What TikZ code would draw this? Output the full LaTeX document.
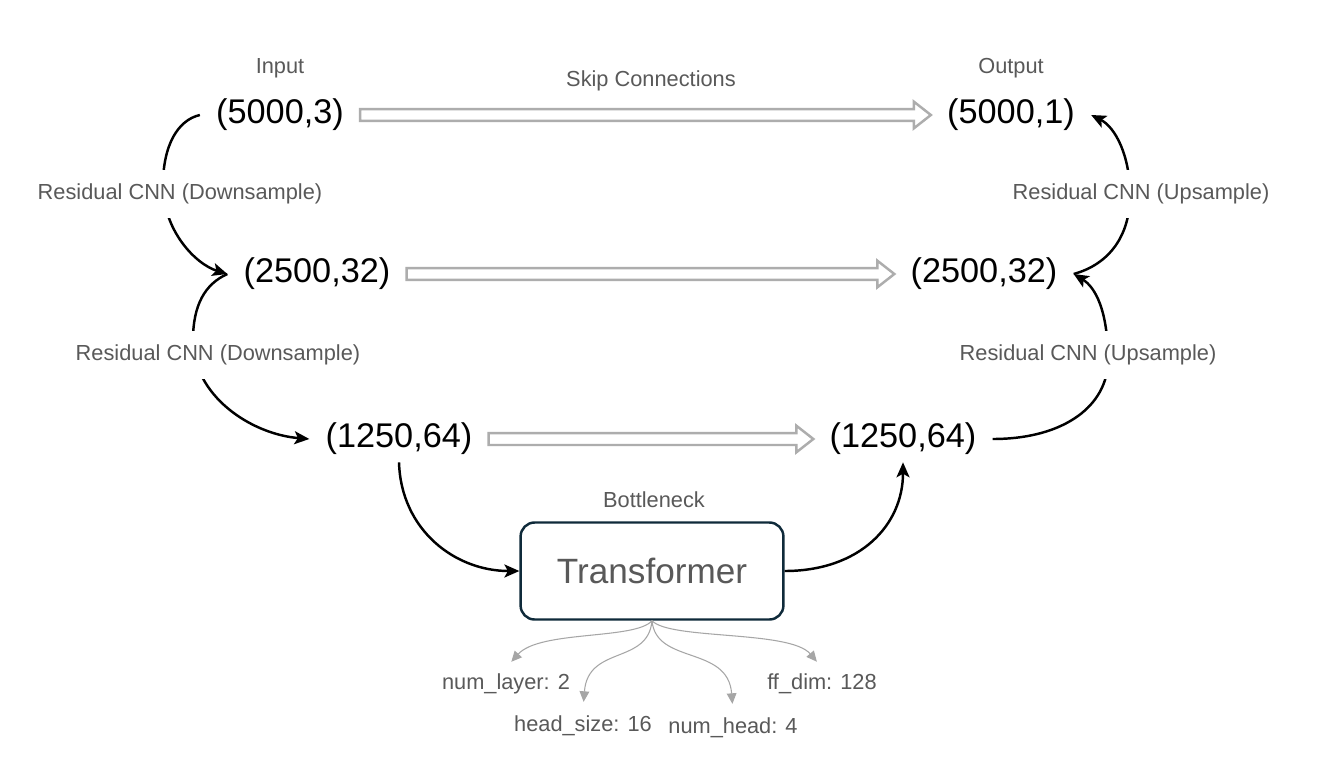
\documentclass[tikz,border=0pt]{standalone}
\usepackage{fontspec}
\setmainfont{Liberation Sans}
\usetikzlibrary{arrows.meta, calc}

\definecolor{labelgray}{HTML}{595959}
\definecolor{skipgray}{HTML}{ADADAD}
\definecolor{paramgray}{HTML}{A6A6A6}
\definecolor{boxnavy}{HTML}{0F2A3A}

\begin{document}
\begin{tikzpicture}[
    x=0.02cm, y=-0.02cm,
    dimnode/.style={font=\fontsize{19.5}{23}\selectfont, inner xsep=9.1pt, inner ysep=4pt},
    caption/.style={font=\fontsize{12.4}{15}\selectfont, text=labelgray},
    masklabel/.style={caption, fill=white, inner ysep=8pt, inner xsep=2pt},
    block/.style={draw=boxnavy, line width=1.4pt, rounded corners=8pt,
        minimum width=149.6pt, minimum height=55.2pt,
        font=\fontsize{20}{24}\selectfont, text=labelgray},
    flow/.style={-{Stealth[length=8.5pt, width=7.4pt, inset=2pt]}, line width=1.4pt},
    param/.style={-{Triangle[length=6pt, width=5.5pt]}, draw=paramgray, line width=0.6pt, shorten >=4.5pt},
    skiparrow/.style={draw=skipgray, line width=1.4pt, line join=miter,
        to path={let \p1=(\tikztostart), \p2=(\tikztotarget) in
            (\x1,\y1+3.4pt) -- (\x2-9.7pt,\y1+3.4pt) -- (\x2-9.7pt,\y1+7.6pt)
            -- (\x2,\y1) -- (\x2-9.7pt,\y1-7.6pt) -- (\x2-9.7pt,\y1-3.4pt)
            -- (\x1,\y1-3.4pt) -- cycle}}
]

\fill[white] (0,0) rectangle (1317,767);
\useasboundingbox (0,0) rectangle (1317,767);

% === SHAPES (encoder on the left, decoder on the right) ===
\node[dimnode] (in0)  at (280,115) {(5000,3)};
\node[dimnode] (d2)   at (317,274) {(2500,32)};
\node[dimnode] (d3)   at (399,439) {(1250,64)};
\node[dimnode] (out0) at (1011,115) {(5000,1)};
\node[dimnode] (u2)   at (984,274) {(2500,32)};
\node[dimnode] (u3)   at (903,439) {(1250,64)};

% Bottleneck block
\node[block] (tf) at (652,571) {Transformer};

% === SKIP CONNECTIONS ===
\draw[skiparrow] (in0.east) to (out0.west);
\draw[skiparrow] (d2.east) to (u2.west);
\draw[skiparrow] (d3.east) to (u3.west);

% === DOWNSAMPLE PATH ===
\draw[flow] (in0.west) .. controls (178,120) and (163,145) .. (163,185)
    .. controls (163,230) and (195,264) .. (d2.west);
\draw[flow] (d2.west) .. controls (205,284) and (193,305) .. (193,340)
    .. controls (193,395) and (250,434) .. (d3.west);
\draw[flow] (d3.south) .. controls (401,530) and (455,571) .. (tf.west);

% === UPSAMPLE PATH ===
\draw[flow] (tf.east) .. controls (860,571) and (903,525) .. (u3.south);
\draw[flow] (u3.east) .. controls (1065,439) and (1108,405) .. (1108,360)
    .. controls (1108,310) and (1095,287) .. (u2.east);
\draw[flow] (u2.east) .. controls (1110,264) and (1130,235) .. (1130,195)
    .. controls (1130,155) and (1115,127) .. (out0.east);

% === LABELS ===
\node[caption] (lblin)   at (280,68)  {Input};
\node[caption] (lblout)  at (1011,68) {Output};
\node[caption] (lblskip) at (651,81)  {Skip Connections};
\node[caption] (lblneck) at (654,500) {Bottleneck};
\node[masklabel] (resdown1) at (180,194)  {Residual CNN (Downsample)};
\node[masklabel] (resdown2) at (218,355)  {Residual CNN (Downsample)};
\node[masklabel] (resup2)   at (1088,355) {Residual CNN (Upsample)};
\node[masklabel] (resup1)   at (1141,194) {Residual CNN (Upsample)};

% === TRANSFORMER SETTINGS ===
\node[caption] (nlayer) at (506,684) {num\_layer: 2};
\node[caption] (hsize)  at (583,726) {head\_size: 16};
\node[caption] (nhead)  at (733,728) {num\_head: 4};
\node[caption] (ffdim)  at (822,684) {ff\_dim: 128};

\draw[param] (tf.south) .. controls (635,640) and (540,630) .. (nlayer.north);
\draw[param] (tf.south) .. controls (648,665) and (588,645) .. (hsize.north);
\draw[param] (tf.south) .. controls (656,665) and (728,645) .. (nhead.north);
\draw[param] (tf.south) .. controls (670,640) and (790,630) .. (ffdim.north);

\end{tikzpicture}
\end{document}
